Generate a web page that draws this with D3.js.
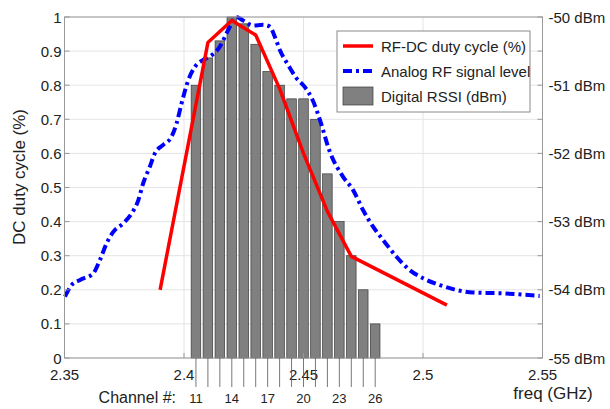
<!DOCTYPE html>
<html>
<head>
<meta charset="utf-8">
<script src="https://cdn.jsdelivr.net/npm/d3@7"></script>
<style>
  body { margin: 0; background: #fff; }
  text { font-family: "Liberation Sans", Arial, Helvetica, sans-serif; fill: #222; }
</style>
</head>
<body>
<svg id="chart"></svg>
<script>
// channels and digital RSSI bars (right axis, dBm)
const channels = [11, 12, 13, 14, 15, 16, 17, 18, 19, 20, 21, 22, 23, 24, 25, 26]
const rssiDbm = [-51.0, -50.6, -50.35, -50.0, -50.1, -50.4, -50.8, -51.0, -51.2, -51.2, -51.5, -52.3, -53.0, -53.5, -54.0, -54.5]
const channelLabels = [11, 14, 17, 20, 23, 26]

// RF-DC duty cycle (left axis)
const dutyFreq = [2.39, 2.41, 2.42, 2.43, 2.44, 2.45, 2.46, 2.47, 2.51]
const dutyCycle = [0.2, 0.925, 0.99, 0.947, 0.79, 0.6, 0.43, 0.298, 0.155]

// analog RF signal level (left axis units)
const analogFreq = [2.3502, 2.3530, 2.3565, 2.3620, 2.3648, 2.3676, 2.3704, 2.3746, 2.3781, 2.3809,
  2.3829, 2.3857, 2.3878, 2.3913, 2.3948, 2.3969, 2.3990, 2.4018, 2.4046, 2.4080,
  2.4108, 2.4150, 2.4185, 2.4220, 2.4247, 2.4289, 2.4331, 2.4359, 2.4380, 2.4401,
  2.4436, 2.4471, 2.4505, 2.4539, 2.4568, 2.4610, 2.4665, 2.4707, 2.4749, 2.4791,
  2.4833, 2.4889, 2.4944, 2.5000, 2.5070, 2.5209, 2.5320, 2.5488]
const analogLevel = [0.18, 0.214, 0.229, 0.248, 0.287, 0.336, 0.370, 0.395, 0.424, 0.463,
  0.512, 0.561, 0.600, 0.625, 0.649, 0.688, 0.747, 0.815, 0.854, 0.874,
  0.884, 0.913, 0.962, 1.0, 0.99, 0.975, 0.977, 0.972, 0.942, 0.903,
  0.859, 0.820, 0.795, 0.755, 0.70, 0.605, 0.532, 0.493, 0.434, 0.385,
  0.346, 0.297, 0.258, 0.234, 0.214, 0.192, 0.190, 0.182]

const xTicks = [2.35, 2.4, 2.45, 2.5, 2.55]
const yTicks = [0, 0.1, 0.2, 0.3, 0.4, 0.5, 0.6, 0.7, 0.8, 0.9, 1]
const rightTicks = [-55, -54.5, -54, -53.5, -53, -52.5, -52, -51.5, -51, -50.5, -50]
const rightLabels = [-55, -54, -53, -52, -51, -50]

const width = 610, height = 409
const plotLeft = 64.5, plotRight = 542.5, plotTop = 17, plotBottom = 358

const svg = d3.select('#chart').attr('width', width).attr('height', height)

const xScale = d3.scaleLinear().domain([2.35, 2.55]).range([plotLeft, plotRight])
const yScale = d3.scaleLinear().domain([0, 1]).range([plotBottom, plotTop])
const yRight = d3.scaleLinear().domain([-55, -50]).range([plotBottom, plotTop])

const chFreq = ch => 2.405 + 0.005 * (ch - 11)

// grid
const grid = svg.append('g').attr('class', 'grid')
grid.selectAll('line.h').data(yTicks).enter().append('line')
  .attr('x1', plotLeft).attr('x2', plotRight)
  .attr('y1', d => yScale(d)).attr('y2', d => yScale(d))
  .attr('stroke', '#e4e4e4').attr('stroke-width', 1)
grid.selectAll('line.v').data(xTicks).enter().append('line')
  .attr('y1', plotTop).attr('y2', plotBottom)
  .attr('x1', d => xScale(d)).attr('x2', d => xScale(d))
  .attr('stroke', '#e4e4e4').attr('stroke-width', 1)

// bars
const barW = (xScale(2.405) - xScale(2.4)) * 0.8
svg.append('g').selectAll('rect').data(channels).enter().append('rect')
  .attr('x', (d, i) => xScale(chFreq(d)) - barW / 2)
  .attr('y', (d, i) => yRight(rssiDbm[i]))
  .attr('width', barW)
  .attr('height', (d, i) => plotBottom - yRight(rssiDbm[i]))
  .attr('fill', '#808080')
  .attr('stroke', '#3a3a3a')
  .attr('stroke-width', 0.7)

// analog RF signal (dash-dot blue)
const analogLine = d3.line()
  .x(d => xScale(d[0])).y(d => yScale(d[1]))
  .curve(d3.curveMonotoneX)
svg.append('path')
  .datum(analogFreq.map((f, i) => [f, analogLevel[i]]))
  .attr('d', analogLine)
  .attr('fill', 'none')
  .attr('stroke', '#0000ff')
  .attr('stroke-width', 4)
  .attr('stroke-dasharray', '9,4,3,4')

// duty cycle (red)
const dutyLine = d3.line().x(d => xScale(d[0])).y(d => yScale(d[1]))
svg.append('path')
  .datum(dutyFreq.map((f, i) => [f, dutyCycle[i]]))
  .attr('d', dutyLine)
  .attr('fill', 'none')
  .attr('stroke', '#ff0000')
  .attr('stroke-width', 3.5)
  .attr('stroke-linejoin', 'round')

// box / axes
const axisColor = '#999'
svg.append('rect')
  .attr('x', plotLeft).attr('y', plotTop)
  .attr('width', plotRight - plotLeft).attr('height', plotBottom - plotTop)
  .attr('fill', 'none').attr('stroke', axisColor).attr('stroke-width', 1)

// left ticks and labels
svg.append('g').selectAll('line').data(yTicks).enter().append('line')
  .attr('x1', plotLeft).attr('x2', plotLeft + 5)
  .attr('y1', d => yScale(d)).attr('y2', d => yScale(d))
  .attr('stroke', axisColor)
svg.append('g').selectAll('text').data(yTicks).enter().append('text')
  .attr('x', plotLeft - 3).attr('y', d => yScale(d))
  .attr('text-anchor', 'end').attr('dominant-baseline', 'central')
  .style('font-size', '15px')
  .text(d => d3.format('~g')(d))

// bottom ticks and labels
svg.append('g').selectAll('line').data(xTicks).enter().append('line')
  .attr('x1', d => xScale(d)).attr('x2', d => xScale(d))
  .attr('y1', plotBottom).attr('y2', plotBottom - 5)
  .attr('stroke', axisColor)
svg.append('g').selectAll('text').data(xTicks).enter().append('text')
  .attr('x', d => xScale(d)).attr('y', 374)
  .attr('text-anchor', 'middle').attr('dominant-baseline', 'central')
  .style('font-size', '15px')
  .text(d => d3.format('~g')(d))

// right ticks and labels
svg.append('g').selectAll('line').data(rightTicks).enter().append('line')
  .attr('x1', plotRight).attr('x2', plotRight - 5)
  .attr('y1', d => yRight(d)).attr('y2', d => yRight(d))
  .attr('stroke', axisColor)
svg.append('g').selectAll('text').data(rightLabels).enter().append('text')
  .attr('x', plotRight + 6).attr('y', d => yRight(d))
  .attr('dominant-baseline', 'central')
  .style('font-size', '15px')
  .text(d => d + ' dBm')

// channel markers
svg.append('g').selectAll('line').data(channels).enter().append('line')
  .attr('x1', d => xScale(chFreq(d))).attr('x2', d => xScale(chFreq(d)))
  .attr('y1', plotBottom).attr('y2', 387)
  .attr('stroke', '#555').attr('stroke-width', 0.8)
svg.append('g').selectAll('text').data(channelLabels).enter().append('text')
  .attr('x', d => xScale(chFreq(d))).attr('y', 398)
  .attr('text-anchor', 'middle').attr('dominant-baseline', 'central')
  .style('font-size', '13px')
  .text(d => d)
svg.append('text')
  .attr('x', 176).attr('y', 397)
  .attr('text-anchor', 'end').attr('dominant-baseline', 'central')
  .style('font-size', '16px')
  .text('Channel #:')

// axis titles
svg.append('text')
  .attr('transform', 'translate(19,177) rotate(-90)')
  .attr('text-anchor', 'middle').attr('dominant-baseline', 'central')
  .style('font-size', '17px')
  .text('DC duty cycle (%)')
svg.append('text')
  .attr('x', 553).attr('y', 393)
  .attr('text-anchor', 'middle').attr('dominant-baseline', 'central')
  .style('font-size', '17px')
  .text('freq (GHz)')

// legend
const legend = svg.append('g')
legend.append('rect')
  .attr('x', 337).attr('y', 31).attr('width', 193).attr('height', 81)
  .attr('fill', '#fff').attr('stroke', '#8a8a8a').attr('stroke-width', 1)
legend.append('line')
  .attr('x1', 343).attr('x2', 373).attr('y1', 46).attr('y2', 46)
  .attr('stroke', '#ff0000').attr('stroke-width', 3.5)
legend.append('line')
  .attr('x1', 343).attr('x2', 373).attr('y1', 71).attr('y2', 71)
  .attr('stroke', '#0000ff').attr('stroke-width', 4)
  .attr('stroke-dasharray', '9,4,3,4')
legend.append('rect')
  .attr('x', 343).attr('y', 87).attr('width', 30).attr('height', 18)
  .attr('fill', '#808080').attr('stroke', '#3a3a3a').attr('stroke-width', 0.7)
const legendItems = ['RF-DC duty cycle (%)', 'Analog RF signal level', 'Digital RSSI (dBm)']
const legendY = [46, 71, 96]
legend.selectAll('text.item').data(legendItems).enter().append('text')
  .attr('x', 381).attr('y', (d, i) => legendY[i])
  .attr('dominant-baseline', 'central')
  .style('font-size', '15px')
  .text(d => d)
</script>
</body>
</html>
